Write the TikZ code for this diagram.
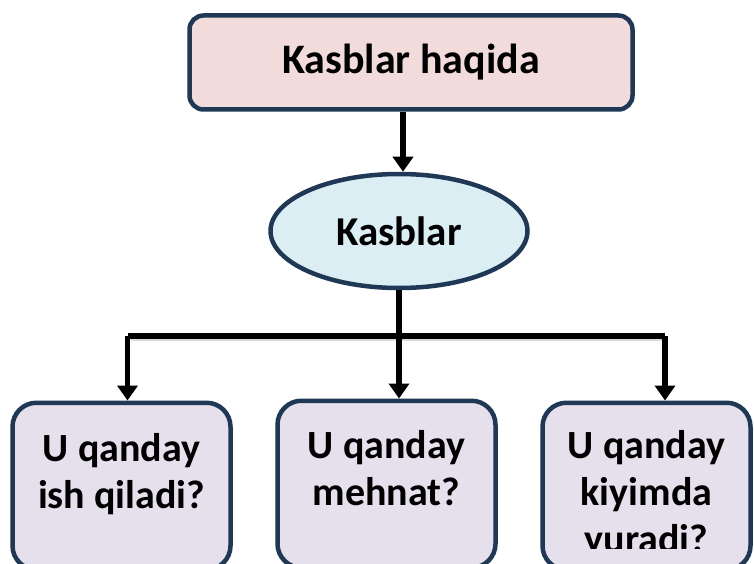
\documentclass[tikz,border=0pt]{standalone}
\usepackage{fontspec}
\setmainfont{Carlito}
\usepackage{tikz}
\usetikzlibrary{shapes,arrows,arrows.meta,positioning}

\definecolor{rimblue}{HTML}{1F3855}
\definecolor{headpink}{HTML}{F2DCDB}
\definecolor{ovalblue}{HTML}{DBEEF3}
\definecolor{qlilac}{HTML}{E5E0EC}

\tikzset{
    headbox/.style={
        draw=rimblue,
        line width=4.5pt,
        rounded corners=14pt,
        fill=headpink,
        minimum width=443pt,
        minimum height=94pt,
        font=\fontsize{42}{48}\selectfont\bfseries
    },
    oval/.style={
        ellipse,
        draw=rimblue,
        line width=4.5pt,
        fill=ovalblue,
        inner sep=0pt,
        minimum width=257pt,
        minimum height=114pt,
        font=\fontsize{41}{48}\selectfont\bfseries
    },
    qbox/.style={
        draw=rimblue,
        line width=4.5pt,
        rounded corners=24pt,
        fill=qlilac,
        anchor=north,
        minimum height=167pt
    },
    qtext/.style={
        align=center,
        anchor=base,
        inner sep=0pt,
        font=\fontsize{40}{47}\selectfont\bfseries
    },
    link/.style={
        line width=5.5pt,
        -{Triangle[length=15pt,width=20pt]}
    }
}

\begin{document}
\begin{tikzpicture}[x=1pt,y=-1pt]
    \useasboundingbox (0,0) rectangle (754,564);
    \clip (0,0) rectangle (754,564);

    \node[headbox] (head) at (411,62.5) {Kasblar haqida};
    \node[oval] (kasb) at (399,231) {Kasblar};

    \node[qbox, minimum width=218pt] (q1) at (121.5,400.5) {};
    \node[qbox, minimum width=218pt] (q2) at (386.5,398.5) {};
    \node[qbox, minimum width=208pt] (q3) at (646.5,400.5) {};

    % anchor=base sits on the last line
    \node[qtext] (t1) at (121.5,508) {U qanday\\ish qiladi?};
    \node[qtext] (t2) at (386.5,505) {U qanday\\mehnat?};
    \begin{scope}
        \clip (542.5,400) rectangle (751.5,548);
        \node[qtext] (t3) at (646.5,552) {U qanday\\kiyimda\\yuradi?};
    \end{scope}

    % connectors
    \coordinate (split) at (400,336);
    \coordinate (leftdrop) at (127.5,336);
    \coordinate (rightdrop) at (665,336);

    \draw[link] ([xshift=4pt]kasb.north |- head.south) -- ([xshift=4pt]kasb.north);
    \draw[black!15, line width=4pt] ([xshift=3pt,yshift=-3pt]leftdrop) -- ([xshift=3pt,yshift=-3pt]rightdrop);
    \draw[line width=5.5pt] (leftdrop) -- (rightdrop);
    \draw[link] (leftdrop) -- (leftdrop |- q1.north);
    \draw[link] (rightdrop) -- (rightdrop |- q3.north);
    \draw[link] (kasb.south) -- (kasb.south |- q2.north);
\end{tikzpicture}
\end{document}
